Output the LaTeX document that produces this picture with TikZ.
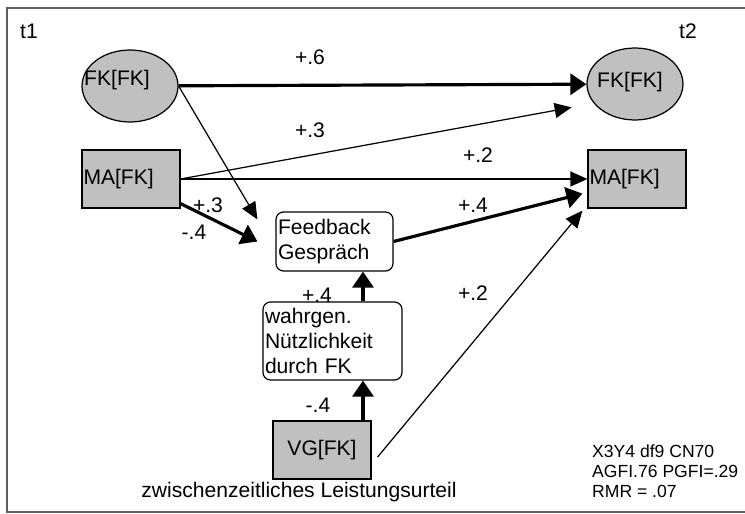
\documentclass[tikz,border=0pt]{standalone}
\usepackage{fontspec}
\setmainfont{Liberation Sans}
\usetikzlibrary{arrows.meta}
\usetikzlibrary{shapes.geometric}
\definecolor{boxgray}{RGB}{192,192,192}
\definecolor{framegray}{RGB}{95,95,95}
\tikzset{
	latent/.style={ellipse, draw, line width=0.7pt, fill=boxgray, minimum width=1.92cm, minimum height=1.44cm, inner sep=0pt},
	manifest/.style={rectangle, draw, line width=0.7pt, fill=boxgray, minimum height=1.16cm, text width=1.9cm, inner xsep=0.03cm, align=left},
	process/.style={rectangle, draw, line width=0.7pt, rounded corners=0.15cm, inner xsep=0.04cm, align=left},
	weak path/.style={line width=0.7pt, -{Triangle[length=0.34cm,width=0.3cm]}},
	strong path/.style={line width=1.8pt, -{Triangle[length=0.32cm,width=0.42cm]}},
}

\begin{document}
\begin{tikzpicture}[x=0.02cm, y=-0.02cm, every node/.style={font=\fontsize{12}{14}\selectfont}]
		\useasboundingbox (0,0) rectangle (745,514);
		\draw[framegray, line width=1.4pt] (7,8) rectangle (780,512);
		% time points
		\node (t1) at (29,31) {t1};
		\node (t2) at (688,31) {t2};
		% variables
		\node[latent, label={[xshift=-0.26cm,yshift=0.12cm]center:{FK[FK]}}] (fk1) at (130,86) {};
		\node[latent, label={[xshift=-0.1cm,yshift=0.04cm]center:{FK[FK]}}] (fk2) at (635,84) {};
		\node[manifest] (ma1) at (131,179) {MA[FK]};
		\node[manifest] (ma2) at (637,179) {MA[FK]};
		\node[process, minimum width=2.34cm, minimum height=1.18cm, text width=2.26cm] (fb) at (334.5,241.5) {Feedback\\Gespräch};
		\node[process, minimum width=2.78cm, minimum height=1.56cm, text width=2.7cm] (wahr) at (332.5,341) {wahrgen.\\Nützlichkeit\\durch FK};
		\node[manifest, align=center] (vg) at (322,450) {VG[FK]};
		\node (urteil) at (299,492) {zwischenzeitliches Leistungsurteil};
		% paths
		\draw[strong path] (fk1) -- (fk2);
		\draw[weak path] (fk1.east) -- ([xshift=-0.36cm,yshift=-0.16cm]fb.north west);
		\draw[weak path] (ma1.east) -- ([xshift=-0.58cm,yshift=0.05cm]fk2.south west);
		\draw[weak path] (ma1) -- (ma2);
		\draw[strong path] ([yshift=0.1cm]ma1.south east) -- ([xshift=-0.36cm]fb.west);
		\draw[strong path] (fb.east) -- ([xshift=-0.1cm,yshift=0.3cm]ma2.south west);
		\draw[weak path] ([xshift=0.12cm,yshift=-0.14cm]vg.east) -- ([xshift=-0.1cm,yshift=-0.04cm]ma2.south west);
		\draw[strong path] ([xshift=0.61cm]wahr.north) -- ([xshift=0.61cm]wahr.north |- fb.south);
		\draw[strong path] ([xshift=0.82cm]vg.north) -- ([xshift=0.82cm]vg.north |- wahr.south);
		% coefficients
		\node (c1) at (310,57) {+.6};
		\node (c2) at (310,130) {+.3};
		\node (c3) at (478,155) {+.2};
		\node (c4) at (208,205) {+.3};
		\node (c5) at (194,232) {-.4};
		\node (c6) at (473,205) {+.4};
		\node (c7) at (473,293) {+.2};
		\node (c8) at (317,295) {+.4};
		\node (c9) at (318,405) {-.4};
		% fit
		\node[anchor=west, align=left, font=\fontsize{10}{11.4}\selectfont] (fit) at (586,471) {X3Y4 df9 CN70\\AGFI.76 PGFI=.29\\RMR = .07};
	\end{tikzpicture}
\end{document}
